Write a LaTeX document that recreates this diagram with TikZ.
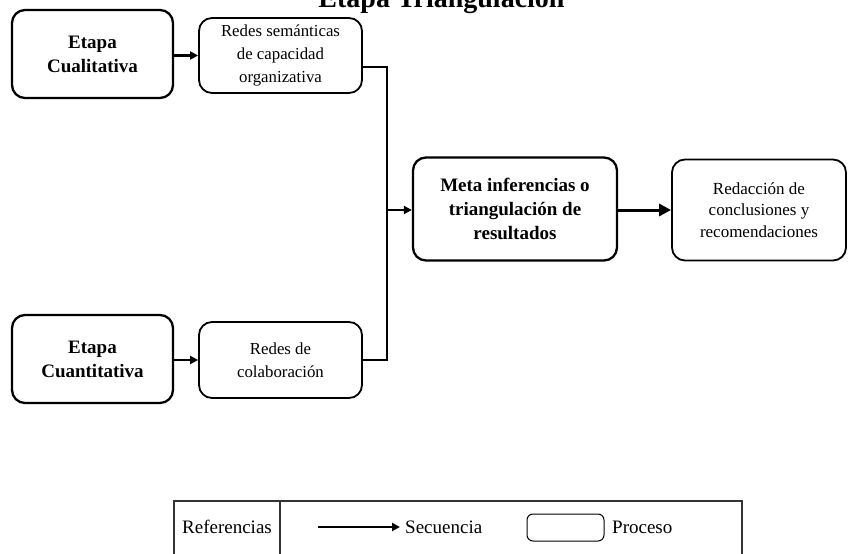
\documentclass[tikz,border=0pt]{standalone}
\usepackage{fontspec}
\setmainfont{Liberation Serif}
\usetikzlibrary{arrows.meta}

\tikzset{
  x=1pt, y=-1pt,
  stage/.style={draw, line width=2.3pt, rounded corners=13pt, align=center,
    font=\fontsize{19}{24}\selectfont\bfseries, inner sep=0pt},
  result/.style={draw, line width=1.8pt, rounded corners=13pt, align=center,
    font=\fontsize{16.8}{23}\selectfont, inner sep=0pt},
  flow/.style={line width=2.3pt, -{Triangle[length=8pt,width=8pt]}},
  link/.style={line width=2.3pt},
  legendline/.style={line width=1.1pt, draw=black!80},
  legendtext/.style={font=\fontsize{19}{22}\selectfont, inner sep=0pt}
}

\begin{document}
\begin{tikzpicture}
\useasboundingbox (0,0) rectangle (849,554);

% title, partly above the page edge
\node[anchor=base, font=\fontsize{28}{30}\selectfont\bfseries, inner sep=0pt]
  (title) at (441.5,7) {Etapa Triangulación};

% qualitative branch
\node[stage, minimum width=161pt, minimum height=88pt] (qual) at (92.5,54)
  {Etapa\\Cualitativa};
\node[result, minimum width=163pt, minimum height=75pt] (sem) at (280.5,55.5)
  {Redes semánticas\\de capacidad\\organizativa};

% quantitative branch
\node[stage, minimum width=161pt, minimum height=88pt] (quant) at (92.5,359)
  {Etapa\\Cuantitativa};
\node[result, minimum width=163pt, minimum height=76pt] (colab) at (280.5,360)
  {Redes de\\colaboración};

% triangulation and conclusions
\node[stage, minimum width=204pt, minimum height=103pt] (meta) at (515,209)
  {Meta inferencias o\\triangulación de\\resultados};
\node[result, minimum width=174pt, minimum height=101pt,
  font=\fontsize{17}{21.5}\selectfont] (concl) at (759,210)
  {Redacción de\\conclusiones y\\recomendaciones};

% junction points of the merging connector
\coordinate (jtop) at (387,67);
\coordinate (jmid) at (387,210);
\coordinate (jbot) at (387,360);

\draw[flow] (qual.east |- sem) -- (sem.west);
\draw[flow] (quant.east |- colab) -- (colab.west);
\draw[link] (sem.east |- jtop) -- (jtop) -- (jbot) -- (colab.east |- jbot);
\draw[flow] (jmid) -- (meta.west |- jmid);
\draw[line width=3pt, -{Triangle[length=12pt,width=12pt]}] (meta.east |- jmid) -- (concl.west |- jmid);

% legend
\coordinate (lgtl) at (174,501);
\coordinate (lgtr) at (742,501);
\draw[legendline] (174,560) -- (lgtl) -- (lgtr) -- (742,560);
\draw[legendline] (280,501) -- (280,560);
\node[legendtext] (lgref) at (227,527) {Referencias};
\coordinate (lgarrowstart) at (318,527);
\coordinate (lgarrowend) at (400,527);
\draw[line width=2pt, -{Triangle[length=8pt,width=8pt]}] (lgarrowstart) -- (lgarrowend);
\node[legendtext, anchor=west] (lgseq) at (405,527) {Secuencia};
\node[draw, line width=1pt, rounded corners=6pt, minimum width=77pt,
  minimum height=27pt, inner sep=0pt] (lgbox) at (565.5,527.5) {};
\node[legendtext, anchor=west] (lgproc) at (612,527) {Proceso};
\end{tikzpicture}
\end{document}
